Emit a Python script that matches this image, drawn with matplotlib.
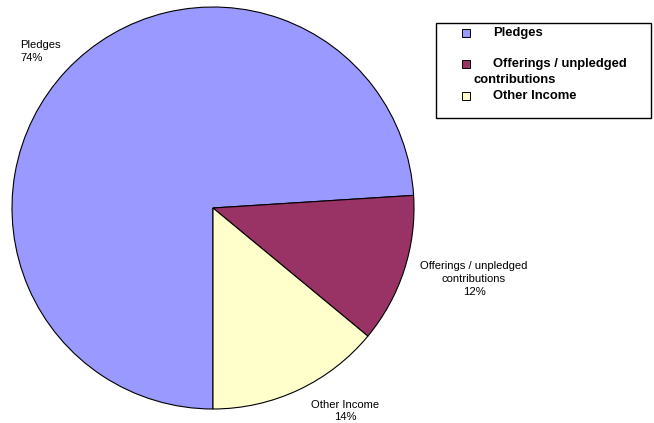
import matplotlib
matplotlib.use("Agg")
import matplotlib.pyplot as plt
from matplotlib.patches import Rectangle

categories = ["Pledges", "Offerings / unpledged contributions", "Other Income"]
values = [74, 12, 14]
colors = ["#9999FF", "#993366", "#FFFFCC"]
slice_labels = ["Pledges\n74%", "Offerings / unpledged\ncontributions\n12%", "Other Income\n14%"]

plt.rcParams['font.family'] = ['Liberation Sans', 'DejaVu Sans']

W, H = 654, 423
fig = plt.figure(figsize=(W / 100, H / 100), dpi=100)
fig.patch.set_facecolor("white")

cx, cy, r = 213, 208, 201
ax = fig.add_axes([(cx - r) / W, (H - cy - r) / H, 2 * r / W, 2 * r / H])
wedges, _ = ax.pie(values, colors=colors, startangle=270, counterclock=False,
                   wedgeprops=dict(edgecolor="black", linewidth=0.8))
ax.set_xlim(-1, 1)
ax.set_ylim(-1, 1)
ax.set_aspect("equal")
ax.axis("off")

def px(x, y):
    return x / W, 1 - y / H

# slice labels (pixel positions)
fig.text(*px(20, 51.5), slice_labels[0], ha="left", va="center", fontsize=8.1, linespacing=1.4)
fig.text(*px(474, 279), slice_labels[1], ha="center", va="center", fontsize=8.1, linespacing=1.4)
fig.text(*px(345, 411), slice_labels[2], ha="center", va="center", fontsize=8.1, linespacing=1.3)

# legend box
lx0, ly0, lx1, ly1 = 436, 23, 651, 118
fig.patches.append(Rectangle(px(lx0, ly1), (lx1 - lx0) / W, (ly1 - ly0) / H,
                             transform=fig.transFigure, facecolor="white",
                             edgecolor="black", linewidth=1.0, zorder=1))
entries = [(33, [(493, categories[0])]),
           (64, [(493, "Offerings / unpledged"), (474, "contributions")]),
           (96, [(493, categories[2])])]
for (y, lines), c in zip(entries, colors):
    s = 8
    fig.patches.append(Rectangle(px(462, y + s / 2), s / W, s / H, transform=fig.transFigure,
                                 facecolor=c, edgecolor="black", linewidth=0.7, zorder=2))
    for i, (x, t) in enumerate(lines):
        fig.text(*px(x, y + i * 16), t, ha="left", va="center", fontsize=9.4,
                 fontweight="bold", zorder=3)

fig.savefig("out.png", dpi=100)
